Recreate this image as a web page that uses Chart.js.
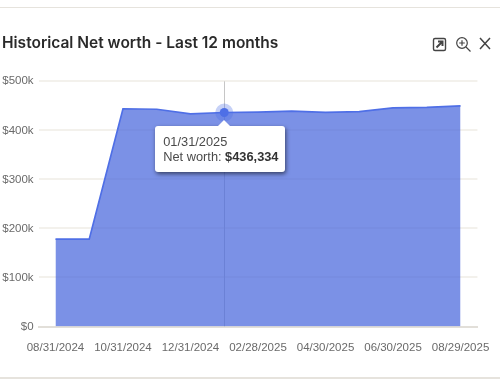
<!DOCTYPE html>
<html>
<head>
<meta charset="utf-8">
<script src="https://cdn.jsdelivr.net/npm/chart.js@4"></script>
<style>
html,body{margin:0;padding:0;background:#fff;width:500px;height:380px;overflow:hidden;font-family:"Liberation Sans",Arial,sans-serif}
#wrap{position:relative;width:500px;height:380px}
#c{position:absolute;left:0;top:0}
.rule{position:absolute;left:0;width:500px;background:#e6e3dd}
#icons{position:absolute;left:431px;top:35px}
#tip{position:absolute;box-sizing:border-box;width:130px;height:46px;background:#fff;border-radius:3px;box-shadow:1px 2px 4px rgba(0,0,0,.55);color:#4a4a4a;font-size:12.8px;line-height:15.5px;padding:8px 0 0 8px;white-space:nowrap}
#tip:before{content:"";position:absolute;left:63px;top:-6px;border-left:6px solid transparent;border-right:6px solid transparent;border-bottom:6px solid #fff}
#tip b{color:#333}
</style>
</head>
<body>
<div id="wrap">
<div class="rule" style="top:7px;height:1px"></div>
<div class="rule" style="top:377px;height:2px"></div>
<canvas id="c" width="500" height="380"></canvas>
<svg id="icons" width="62" height="18" viewBox="0 0 62 18" fill="none" stroke="#444">
<rect x="2.5" y="3.5" width="12" height="12" rx="1.5" stroke-width="1.4"/>
<path d="M5.5 12.5L11 7M7 6.5h4.5V11" stroke-width="2"/>
<circle cx="31" cy="8" r="5.3" stroke-width="1.2"/>
<path d="M35 12l4.5 4.5M31 5.2v5.6M28.2 8h5.6" stroke-width="1.2"/>
<path d="M49 3l10 11M59 3L49 14" stroke-width="1.5"/>
</svg>
<div id="tip"></div>
</div>
<script>
const categories = ["08/31/2024","09/30/2024","10/31/2024","11/30/2024","12/31/2024","01/31/2025","02/28/2025","03/31/2025","04/30/2025","05/31/2025","06/30/2025","07/31/2025","08/29/2025"];
const netWorth = [178000,178000,444000,443000,433500,436334,437000,439000,436500,438000,446000,447000,450000];
const seriesName = "Net worth";
const activeIndex = 5;
const titleText = "Historical Net worth - Last 12 months";

const crosshair = {
  id: "crosshair",
  beforeDatasetsDraw(chart) {
    const el = chart.getActiveElements()[0];
    if (!el) return;
    const a = chart.chartArea, ctx = chart.ctx;
    ctx.save();
    ctx.strokeStyle = "#c6c6c6";
    ctx.lineWidth = 1;
    ctx.beginPath();
    ctx.moveTo(Math.round(el.element.x) + 0.5, a.top);
    ctx.lineTo(Math.round(el.element.x) + 0.5, a.bottom);
    ctx.stroke();
    ctx.restore();
  }
};

function renderTip(context) {
  const t = context.tooltip, tip = document.getElementById("tip");
  if (!t.body || !t.body.length) return;
  const parts = t.body[0].lines[0].split(": ");
  tip.innerHTML = "";
  const l1 = document.createElement("div");
  l1.textContent = t.title[0];
  const l2 = document.createElement("div");
  const b = document.createElement("b");
  b.textContent = parts[1];
  l2.append(parts[0] + ": ", b);
  tip.append(l1, l2);
  tip.style.left = (t.caretX - 69) + "px";
  tip.style.top = (t.caretY + 13) + "px";
}

const chart = new Chart(document.getElementById("c"), {
  type: "line",
  data: {
    labels: categories,
    datasets: [{
      label: seriesName,
      data: netWorth,
      borderColor: "#4f6fe6",
      borderWidth: 1.7,
      backgroundColor: "rgba(72,102,221,.72)",
      fill: "origin",
      tension: 0,
      pointRadius: 0,
      pointHoverRadius: 4.5,
      pointHoverBackgroundColor: "#4f6fe6",
      pointHoverBorderColor: "rgba(79,111,230,.32)",
      pointHoverBorderWidth: 9
    }]
  },
  plugins: [crosshair],
  options: {
    responsive: false,
    animation: false,
    events: [],
    layout: { padding: { left: 2, right: 22.6, top: 0, bottom: 0 } },
    plugins: {
      legend: { display: false },
      title: {
        display: true, text: titleText, align: "start", color: "#2a2a2a",
        font: { family: "Inter", size: 15.5, weight: "600" },
        padding: { top: 34, bottom: 28.7 }
      },
      tooltip: {
        enabled: false,
        external: renderTip,
        callbacks: {
          label: c => c.dataset.label + ": $" + c.parsed.y.toLocaleString("en-US")
        }
      }
    },
    scales: {
      x: {
        offset: true,
        afterFit(s) { s.height = 53.5; s.paddingLeft = 0; s.paddingRight = 0; },
        grid: { display: false, drawTicks: false },
        border: { display: true, color: "#e2dfd9", width: 2 },
        ticks: {
          autoSkip: false, maxRotation: 0, padding: 14,
          color: "#6a6a6a", font: { family: "Liberation Sans", size: 11.5 },
          callback(v, i) { return i % 2 === 0 ? this.getLabelForValue(v) : ""; }
        }
      },
      y: {
        min: 0, max: 500000,
        afterFit(s) { s.width = 36.6; },
        grid: { color: "#f3f1ec", lineWidth: 2, drawTicks: false },
        border: { display: false },
        ticks: {
          stepSize: 100000, padding: 5,
          color: "#6a6a6a", font: { family: "Liberation Sans", size: 11.5 },
          callback: v => v === 0 ? "$0" : "$" + v / 1000 + "k"
        }
      }
    }
  }
});
const active = [{ datasetIndex: 0, index: activeIndex }];
chart.setActiveElements(active);
chart.tooltip.setActiveElements(active, { x: 0, y: 0 });
chart.update();
</script>
</body>
</html>
